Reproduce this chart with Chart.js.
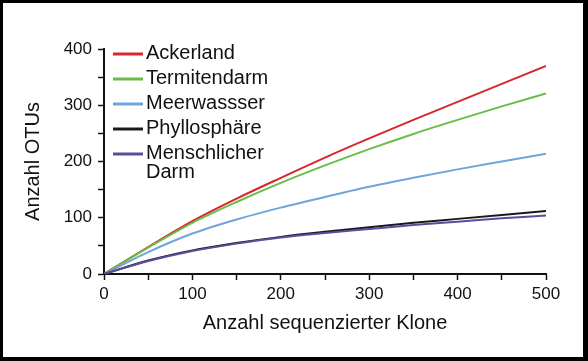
<!DOCTYPE html>
<html>
<head>
<meta charset="utf-8">
<script src="https://cdn.jsdelivr.net/npm/chart.js@4.4.1/dist/chart.umd.min.js"></script>
<style>
  html, body { margin: 0; padding: 0; background: #fff; }
  #wrap { width: 588px; height: 361px; box-sizing: border-box; border-style: solid; border-color: #000; border-width: 3px 5px 4px 3px; background: #fff; }
  #wrap canvas { display: block; }
</style>
</head>
<body>
<div id="wrap"><canvas id="c" width="580" height="354"></canvas></div>
<script>
// ---- data ----
const clones = [0, 50, 100, 150, 200, 250, 300, 350, 400, 450, 500];
const ackerland    = [0, 48, 94, 134, 171, 207, 241, 274, 306, 338, 370];
const termitendarm = [0, 47, 91, 128, 162, 193, 222, 249, 274, 298, 321];
const meerwasser   = [0, 39, 72, 97, 118, 137, 155, 171, 186, 200, 214];
const phyllosphaere = [0, 24, 42, 55, 66, 75, 83, 91, 98, 105, 112];
const menschDarm   = [0, 23, 41, 54, 65, 73, 80, 87, 93, 99, 104];
const seriesNames  = ['Ackerland', 'Termitendarm', 'Meerwassser', 'Phyllosphäre', 'Menschlicher Darm'];
const legendLines  = [['Ackerland'], ['Termitendarm'], ['Meerwassser'], ['Phyllosphäre'], ['Menschlicher', 'Darm']];
const seriesColors = ['#d7262f', '#6bbd47', '#6fa5da', '#1a1a1a', '#5a4c9e'];
const xTitle = 'Anzahl sequenzierter Klone';
const yTitle = 'Anzahl OTUs';

const allSeries = [ackerland, termitendarm, meerwasser, phyllosphaere, menschDarm];
const FONT = "'Liberation Sans', Arial, sans-serif";

const datasets = allSeries.map((vals, i) => ({
  label: seriesNames[i],
  data: clones.map((x, j) => ({ x: x, y: vals[j] })),
  borderColor: seriesColors[i],
  backgroundColor: seriesColors[i],
  borderWidth: 2,
  pointRadius: 0,
  cubicInterpolationMode: 'monotone',
  fill: false
}));
// draw in reverse so red is on top like the reference
datasets.reverse();

const inlineLegend = {
  id: 'inlineLegend',
  afterDraw(chart) {
    const ctx = chart.ctx;
    const a = chart.chartArea;
    ctx.save();
    ctx.font = '20px ' + FONT;
    ctx.textBaseline = 'middle';
    ctx.textAlign = 'left';
    legendLines.forEach((lines, i) => {
      const y = a.top + 5 + i * 25;
      ctx.strokeStyle = seriesColors[i];
      ctx.lineWidth = 3;
      ctx.beginPath();
      ctx.moveTo(a.left + 9, y);
      ctx.lineTo(a.left + 39, y);
      ctx.stroke();
      ctx.fillStyle = '#111';
      lines.forEach((t, k) => ctx.fillText(t, a.left + 42, y - 1 + k * 19.5));
    });
    ctx.restore();
  }
};

new Chart(document.getElementById('c'), {
  type: 'line',
  data: { datasets: datasets },
  options: {
    responsive: false,
    animation: false,
    events: [],
    layout: { padding: { left: 0, top: 46, right: 37, bottom: 0 } },
    plugins: { legend: { display: false }, tooltip: { enabled: false } },
    scales: {
      x: {
        type: 'linear',
        min: 0, max: 500,
        afterFit(scale) { scale.height = 83; },
        border: { display: true, color: '#111', width: 2 },
        grid: { display: true, drawOnChartArea: false, drawTicks: true, tickLength: 6, tickColor: '#111', tickWidth: 1.5 },
        ticks: {
          stepSize: 50, autoSkip: false, maxRotation: 0, padding: 4,
          color: '#111', font: { family: FONT, size: 17 },
          callback: v => (v % 100 === 0 ? String(v) : '')
        },
        title: { display: true, text: xTitle, color: '#111', font: { family: FONT, size: 20 }, padding: { top: 0, bottom: 22 } }
      },
      y: {
        type: 'linear',
        min: 0, max: 400,
        afterFit(scale) { scale.width = 101; },
        border: { display: true, color: '#111', width: 2 },
        grid: { display: true, drawOnChartArea: false, drawTicks: true, tickLength: 6, tickColor: '#111', tickWidth: 1.5 },
        ticks: {
          stepSize: 50, autoSkip: false, padding: 6,
          color: '#111', font: { family: FONT, size: 17 },
          callback: v => (v % 100 === 0 ? String(v) : '')
        },
        title: { display: true, text: yTitle, color: '#111', font: { family: FONT, size: 20 }, padding: { top: 18, bottom: 0 } }
      }
    }
  },
  plugins: [inlineLegend]
});
</script>
</body>
</html>
